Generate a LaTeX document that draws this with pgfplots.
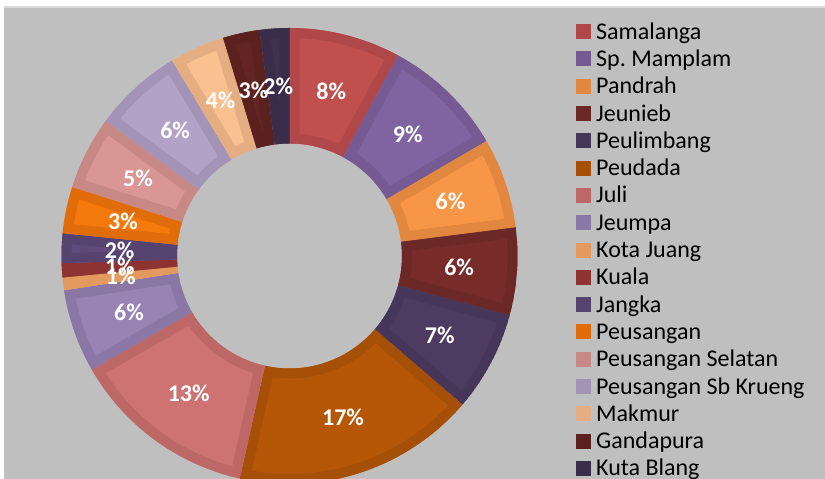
\documentclass[border=0pt]{standalone}
\usepackage{fontspec}
\setmainfont{Carlito}
\usepackage{pgfplots}
\usepackage{pgfplotstable}
\pgfplotsset{compat=1.18}

\definecolor{bg}{HTML}{BFBFBF}
\definecolor{bgline}{HTML}{D9D9D9}
% slice fill (c) and its darker rim (d)
\definecolor{c0}{HTML}{C0504D}\definecolor{d0}{HTML}{B0484A}
\definecolor{c1}{HTML}{8064A2}\definecolor{d1}{HTML}{765A93}
\definecolor{c2}{HTML}{F79646}\definecolor{d2}{HTML}{E2873F}
\definecolor{c3}{HTML}{772C2A}\definecolor{d3}{HTML}{6C2826}
\definecolor{c4}{HTML}{4D3B62}\definecolor{d4}{HTML}{463659}
\definecolor{c5}{HTML}{B65708}\definecolor{d5}{HTML}{A54F07}
\definecolor{c6}{HTML}{CD7371}\definecolor{d6}{HTML}{BD6867}
\definecolor{c7}{HTML}{9983B5}\definecolor{d7}{HTML}{8B77A5}
\definecolor{c8}{HTML}{F9AB6E}\definecolor{d8}{HTML}{E49A5E}
\definecolor{c9}{HTML}{953735}\definecolor{d9}{HTML}{8E3331}
\definecolor{c10}{HTML}{604A7B}\definecolor{d10}{HTML}{574370}
\definecolor{c11}{HTML}{F57A0C}\definecolor{d11}{HTML}{E06C0A}
\definecolor{c12}{HTML}{D99694}\definecolor{d12}{HTML}{C78886}
\definecolor{c13}{HTML}{B3A2C7}\definecolor{d13}{HTML}{A393B6}
\definecolor{c14}{HTML}{FAC090}\definecolor{d14}{HTML}{E4AE82}
\definecolor{c15}{HTML}{632523}\definecolor{d15}{HTML}{5A211F}
\definecolor{c16}{HTML}{3F3151}\definecolor{d16}{HTML}{3A2D4A}

\tikzset{
  lab/.style={font=\fontsize{24bp}{28bp}\selectfont\bfseries, text=white, inner sep=0pt, anchor=center},
  legtxt/.style={font=\fontsize{24bp}{28bp}\selectfont, text=black, inner sep=0pt, anchor=base west},
}

% share of each district, percent
\pgfplotstableread[col sep=comma]{
name,val
Samalanga,7.9
Sp. Mamplam,8.7
Pandrah,6.4
Jeunieb,6.2
Peulimbang,7.1
Peudada,17.2
Juli,13.2
Jeumpa,5.9
Kota Juang,0.9
Kuala,1.0
Jangka,2.1
Peusangan,3.3
Peusangan Selatan,5.2
Peusangan Sb Krueng,6.3
Makmur,3.9
Gandapura,2.6
Kuta Blang,2.1
}\shares

% ring geometry, in px of the 825x479 picture (y up)
\def\cx{289.5}\def\cy{223}\def\Ro{228}\def\Ri{112.5}\def\Rm{170}

% #1 fill, #2 rim, (#3,#4) outer start, #5 start angle, #6 end angle, (#7,#8) inner end
\newcommand\slice[8]{%
  \begin{scope}
    \clip (axis cs:#3,#4) arc[start angle=#5, end angle=#6, radius=\Ro bp]
      -- (axis cs:#7,#8) arc[start angle=#6, end angle=#5, radius=\Ri bp] -- cycle;
    \path[fill=#1, draw=#2, line width=20bp] (axis cs:#3,#4) arc[start angle=#5, end angle=#6, radius=\Ro bp]
      -- (axis cs:#7,#8) arc[start angle=#6, end angle=#5, radius=\Ri bp] -- cycle;
  \end{scope}}
% #1 colour, #2 top, #3 bottom of the square, #4 name
\newcommand\legrow[4]{%
  \fill[#1] (axis cs:576,#2) rectangle (axis cs:591,#3);
  \node[legtxt] at (axis cs:596,#3) {#4};}

\gdef\slices{}\gdef\labcoords{}\gdef\cum{0}
\pgfplotstablegetrowsof{\shares}
\pgfmathtruncatemacro\last{\pgfplotsretval-1}
\foreach \i in {0,...,\last}{%
  \pgfplotstablegetelem{\i}{val}\of{\shares}\let\v\pgfplotsretval
  \pgfplotstablegetelem{\i}{name}\of{\shares}\let\nm\pgfplotsretval
  \pgfmathsetmacro\a{90-3.6*\cum}
  \pgfmathsetmacro\b{90-3.6*(\cum+\v)}
  \pgfmathsetmacro\m{(\a+\b)/2}
  \pgfmathsetmacro\xa{\cx+\Ro*cos(\a)}\pgfmathsetmacro\ya{\cy+\Ro*sin(\a)}
  \pgfmathsetmacro\xb{\cx+\Ri*cos(\b)}\pgfmathsetmacro\yb{\cy+\Ri*sin(\b)}
  \pgfmathsetmacro\xm{\cx+\Rm*cos(\m)}\pgfmathsetmacro\ym{\cy+\Rm*sin(\m)}
  \pgfmathtruncatemacro\pc{round(\v)}
  \pgfmathsetmacro\lt{479-24.2-27.3*\i}
  \pgfmathsetmacro\lb{\lt-15}
  \xdef\slices{\unexpanded\expandafter{\slices}%
    \noexpand\slice{c\i}{d\i}{\xa}{\ya}{\a}{\b}{\xb}{\yb}%
    \noexpand\legrow{d\i}{\lt}{\lb}{\nm}}%
  \xdef\labcoords{\unexpanded\expandafter{\labcoords} (\xm,\ym) [\pc\noexpand\%]}%
  \pgfmathsetmacro\nc{\cum+\v}\global\let\cum\nc
}

\begin{document}
\frenchspacing
\begin{tikzpicture}
\begin{axis}[x=1bp, y=1bp, xmin=0, xmax=825, ymin=0, ymax=479,
  enlargelimits=false, hide axis, clip=true]
  \fill[white] (axis cs:0,0) rectangle (axis cs:825,479);
  \fill[bg] (axis cs:4,0) rectangle (axis cs:825,472);
  \draw[bgline, line width=1.5bp] (axis cs:4,472) -- (axis cs:825,472);
  \slices
  \edef\temp{\noexpand\addplot[only marks, mark=none, nodes near coords,
    point meta=explicit symbolic, every node near coord/.append style={lab}]
    coordinates {\unexpanded\expandafter{\labcoords}};}
  \temp
\end{axis}
\pgfresetboundingbox
\path[use as bounding box] (current axis.south west) rectangle (current axis.north east);
\end{tikzpicture}
\end{document}
